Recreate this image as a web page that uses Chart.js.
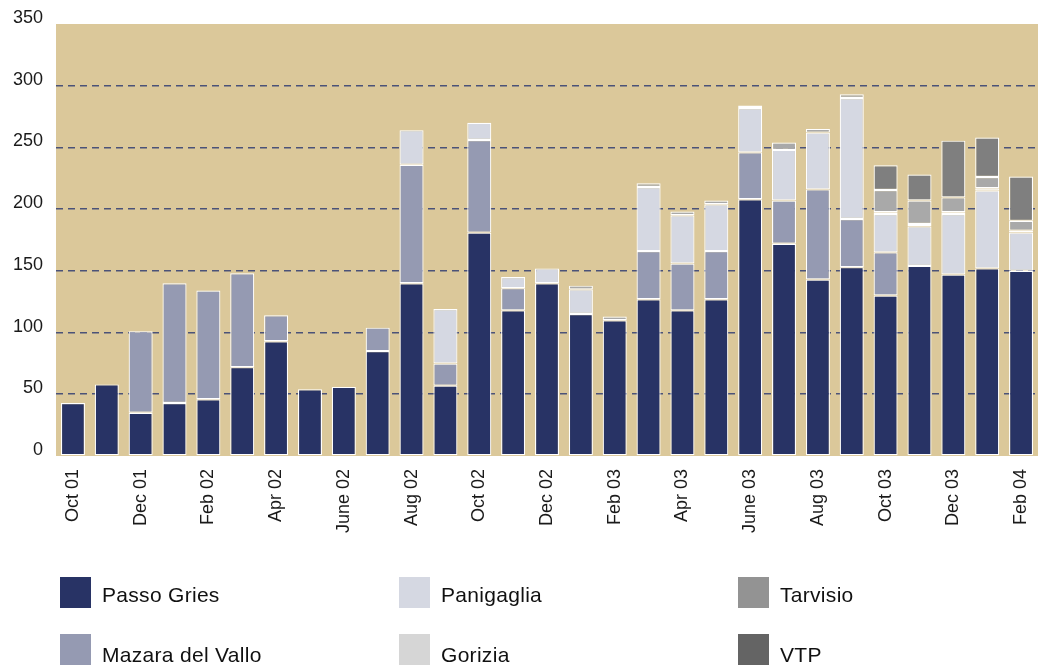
<!DOCTYPE html>
<html>
<head>
<meta charset="utf-8">
<script src="https://cdn.jsdelivr.net/npm/chart.js@4.4.1/dist/chart.umd.min.js"></script>
<style>
  html, body { margin: 0; padding: 0; background: #ffffff; }
  #wrap { position: relative; width: 1048px; height: 672px; overflow: hidden; }
  #c { position: absolute; left: 0; top: 0; }
  .lg { position: absolute; font-family: "Liberation Sans", Arial, sans-serif; font-size: 21px; letter-spacing: 0.3px; color: #111; line-height: 21px; white-space: nowrap; }
  .sw { position: absolute; width: 31px; height: 31px; }
</style>
</head>
<body>
<div id="wrap">
  <canvas id="c" width="1048" height="672"></canvas>
  <div id="legend"></div>
</div>
<script>
const categories = ['Oct 01','Nov 01','Dec 01','Jan 02','Feb 02','Mar 02','Apr 02','May 02','Jun 02','Jul 02','Aug 02','Sep 02','Oct 02','Nov 02','Dec 02','Jan 03','Feb 03','Mar 03','Apr 03','May 03','Jun 03','Jul 03','Aug 03','Sep 03','Oct 03','Nov 03','Dec 03','Jan 04','Feb 04'];
const tickLabels = ['Oct 01','','Dec 01','','Feb 02','','Apr 02','','June 02','','Aug 02','','Oct 02','','Dec 02','','Feb 03','','Apr 03','','June 03','','Aug 03','','Oct 03','','Dec 03','','Feb 04'];
const yTicks = [0, 50, 100, 150, 200, 250, 300, 350];

const passoGries     = [43, 58, 35, 43, 46, 72, 93, 54, 56, 85, 140, 57, 181, 118, 140, 115, 110, 127, 118, 127, 208, 172, 143, 153, 130, 154, 147, 152, 150];
const mazaraDelVallo = [0, 0, 66, 97, 88, 76, 21, 0, 0, 19, 96, 18, 75, 18, 0, 0, 0, 39, 38, 39, 38, 35, 73, 39, 35, 0, 0, 0, 0];
const panigaglia     = [0, 0, 0, 0, 0, 0, 0, 0, 0, 0, 28, 44, 14, 9, 12, 20, 0, 52, 39, 38, 36, 41, 46, 98, 31, 32, 49, 63, 31];
const gorizia        = [0, 0, 0, 0, 0, 0, 0, 0, 0, 0, 0, 0, 0, 0, 0, 0, 0, 0, 0, 0, 0, 0, 0, 0, 1.5, 2, 1.5, 2, 1.5];
const tarvisio       = [0, 0, 0, 0, 0, 0, 0, 0, 0, 0, 0, 0, 0, 0, 0, 3, 3, 3, 3, 3, 2, 6, 3, 3, 18, 19, 12, 9, 8];
const vtp            = [0, 0, 0, 0, 0, 0, 0, 0, 0, 0, 0, 0, 0, 0, 0, 0, 0, 0, 0, 0, 0, 0, 0, 0, 20, 21, 46, 32, 36];

const seriesNames = ['Passo Gries', 'Mazara del Vallo', 'Panigaglia', 'Gorizia', 'Tarvisio', 'VTP'];
const seriesData = [passoGries, mazaraDelVallo, panigaglia, gorizia, tarvisio, vtp];
const barColors = ['#283365', '#959ab2', '#d5d8e2', '#eeeeee', '#a9a9a9', '#7f7f7f'];
const legendColors = ['#283365', '#959ab2', '#d5d8e2', '#d6d6d6', '#939393', '#646464'];

const datasets = seriesNames.map((name, i) => ({
  label: name,
  data: seriesData[i].map(v => v === 0 ? null : v),
  backgroundColor: barColors[i],
  borderColor: '#ffffff',
  borderWidth: 1.2,
  borderSkipped: false,
  barPercentage: 0.71,
  categoryPercentage: 1.0,
  stack: 's'
}));

const plotBg = {
  id: 'plotBg',
  beforeDraw(chart) {
    const a = chart.chartArea, ctx = chart.ctx;
    ctx.save();
    ctx.fillStyle = '#dbc89a';
    ctx.fillRect(a.left, a.top, a.right - a.left, a.bottom - a.top);
    ctx.restore();
  }
};

new Chart(document.getElementById('c'), {
  type: 'bar',
  data: { labels: categories, datasets },
  plugins: [plotBg],
  options: {
    responsive: false,
    animation: false,
    layout: { padding: { top: 24, right: 10, left: 0, bottom: 0 } },
    plugins: { legend: { display: false }, tooltip: { enabled: false } },
    scales: {
      x: {
        stacked: true,
        border: { display: false },
        grid: { display: false, drawTicks: false },
        ticks: {
          autoSkip: false,
          maxRotation: 90,
          minRotation: 90,
          padding: 13,
          color: '#1a1a1a',
          font: { family: 'Liberation Sans, Arial, sans-serif', size: 18 },
          callback: (v, i) => tickLabels[i]
        },
        afterFit(scale) { scale.height = 216; scale.paddingLeft = 0; scale.paddingRight = 0; }
      },
      y: {
        stacked: true,
        min: 0,
        max: 350,
        border: { display: false, dash: [7, 5] },
        grid: {
          drawTicks: false,
          lineWidth: 1.6,
          color: c => (c.tick && (c.tick.value === 0 || c.tick.value === 350)) ? 'rgba(0,0,0,0)' : '#4b5278'
        },
        afterBuildTicks(scale) { scale.ticks = yTicks.map(v => ({ value: v })); },
        ticks: {
          padding: 13,
          labelOffset: -6,
          color: '#1a1a1a',
          font: { family: 'Liberation Sans, Arial, sans-serif', size: 18 }
        },
        afterFit(scale) { scale.width = 56; scale.paddingTop = 0; scale.paddingBottom = 0; }
      }
    }
  }
});

// HTML legend (three columns, two rows)
const legendPos = [
  { x: 60, y: 577 }, { x: 60, y: 634 },
  { x: 399, y: 577 }, { x: 399, y: 634 },
  { x: 738, y: 577 }, { x: 738, y: 634 }
];
const lg = document.getElementById('legend');
seriesNames.forEach((name, i) => {
  const p = legendPos[i];
  const sw = document.createElement('div');
  sw.className = 'sw';
  sw.style.left = p.x + 'px';
  sw.style.top = p.y + 'px';
  sw.style.background = legendColors[i];
  lg.appendChild(sw);
  const t = document.createElement('div');
  t.className = 'lg';
  t.style.left = (p.x + 42) + 'px';
  t.style.top = (p.y + (i % 2 === 0 ? 7 : 10)) + 'px';
  t.textContent = name;
  lg.appendChild(t);
});
</script>
</body>
</html>
